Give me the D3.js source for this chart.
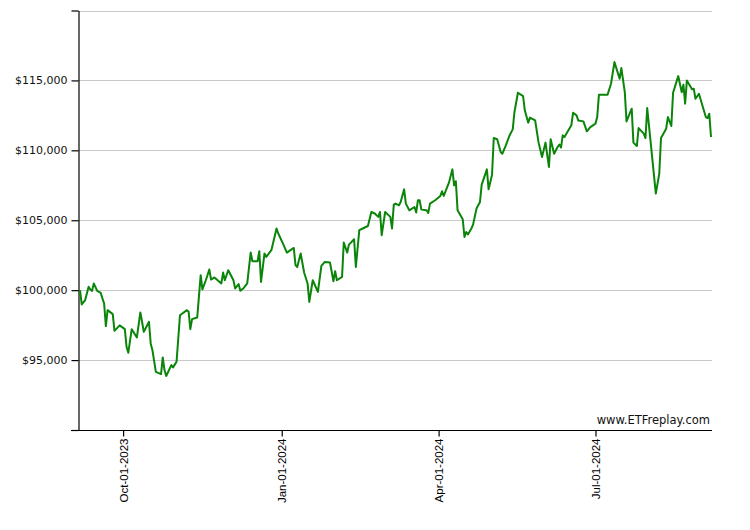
<!DOCTYPE html>
<html>
<head>
<meta charset="utf-8">
<script src="https://cdn.jsdelivr.net/npm/d3@7"></script>
<style>
  html, body { margin: 0; padding: 0; background: #fff; }
  svg { display: block; }
</style>
</head>
<body>
<svg id="chart" width="750" height="530"></svg>
<script>
const dates = [
"2023-09-06","2023-09-07","2023-09-09","2023-09-11","2023-09-12","2023-09-13","2023-09-14","2023-09-16","2023-09-18","2023-09-19",
"2023-09-20","2023-09-21","2023-09-22","2023-09-25","2023-09-26","2023-09-29","2023-10-02","2023-10-03","2023-10-04","2023-10-06",
"2023-10-09","2023-10-11","2023-10-12","2023-10-13","2023-10-16","2023-10-17","2023-10-18","2023-10-20","2023-10-23","2023-10-24",
"2023-10-25","2023-10-26","2023-10-29","2023-10-30","2023-11-01","2023-11-03","2023-11-07","2023-11-08","2023-11-09","2023-11-10",
"2023-11-13","2023-11-15","2023-11-16","2023-11-18","2023-11-20","2023-11-21","2023-11-23","2023-11-27","2023-11-28","2023-11-29",
"2023-12-01","2023-12-04","2023-12-05","2023-12-07","2023-12-08","2023-12-10","2023-12-12","2023-12-14","2023-12-15","2023-12-18",
"2023-12-19","2023-12-20","2023-12-22","2023-12-23","2023-12-26","2023-12-29","2023-12-30","2024-01-02","2024-01-04","2024-01-08",
"2024-01-09","2024-01-10","2024-01-12","2024-01-14","2024-01-16","2024-01-17","2024-01-19","2024-01-22","2024-01-24","2024-01-26",
"2024-01-29","2024-01-31","2024-02-01","2024-02-02","2024-02-05","2024-02-06","2024-02-08","2024-02-09","2024-02-12","2024-02-13",
"2024-02-15","2024-02-17","2024-02-20","2024-02-22","2024-02-24","2024-02-26","2024-02-27","2024-02-28","2024-03-01","2024-03-04",
"2024-03-05","2024-03-06","2024-03-07","2024-03-09","2024-03-10","2024-03-12","2024-03-13","2024-03-15","2024-03-18","2024-03-19",
"2024-03-20","2024-03-21","2024-03-22","2024-03-25","2024-03-26","2024-03-27","2024-03-30","2024-04-02","2024-04-03","2024-04-04",
"2024-04-07","2024-04-09","2024-04-10","2024-04-11","2024-04-12","2024-04-15","2024-04-16","2024-04-17","2024-04-18","2024-04-20",
"2024-04-21","2024-04-23","2024-04-25","2024-04-26","2024-04-29","2024-04-30","2024-05-02","2024-05-03","2024-05-05","2024-05-07",
"2024-05-08","2024-05-10","2024-05-12","2024-05-14","2024-05-15","2024-05-17","2024-05-20","2024-05-21","2024-05-23","2024-05-24",
"2024-05-27","2024-05-29","2024-05-31","2024-06-02","2024-06-04","2024-06-05","2024-06-07","2024-06-09","2024-06-10","2024-06-11",
"2024-06-12","2024-06-13","2024-06-17","2024-06-18","2024-06-20","2024-06-21","2024-06-24","2024-06-26","2024-06-28","2024-07-01",
"2024-07-02","2024-07-03","2024-07-08","2024-07-10","2024-07-12","2024-07-15","2024-07-16","2024-07-18","2024-07-19","2024-07-22",
"2024-07-23","2024-07-25","2024-07-26","2024-07-29","2024-07-30","2024-07-31","2024-08-05","2024-08-07","2024-08-08","2024-08-11",
"2024-08-12","2024-08-14","2024-08-15","2024-08-18","2024-08-20","2024-08-21","2024-08-22","2024-08-23","2024-08-26","2024-08-27",
"2024-08-28","2024-08-30","2024-09-03","2024-09-04","2024-09-05","2024-09-06"
];
const values = [
100000,98980,99290,100240,100050,99950,100480,99950,99810,99410,
99050,97430,98570,98290,97090,97480,97210,95950,95520,97210,
96620,98410,97740,97020,97740,96190,95710,94160,94000,95190,
94290,93860,94640,94480,94880,98210,98570,98450,97210,97930,
98050,101070,100050,100710,101480,100760,100910,100480,101260,100710,
101430,100710,100120,100430,99960,100160,100480,102690,102070,102070,
102790,100590,102620,102380,102860,104410,104050,103260,102690,103020,
101790,101660,102620,101260,100480,99160,100710,99880,101740,102020,
101980,100640,101360,100710,100950,103410,102690,103260,103640,101660,
104290,104410,104590,105590,105480,105240,105590,103930,105590,105240,
104410,106120,106190,106070,106310,107210,106190,105710,105950,105550,
106430,106430,105760,105710,105520,106190,106430,106740,107070,106740,
107690,108640,107500,107790,105710,105070,103810,104160,103980,104410,
104690,105840,106310,107550,108640,107210,108260,110880,110790,109880,
109760,110360,111020,111500,112740,114120,113880,112860,111980,112340,
112140,110550,109520,110550,108810,110790,109760,110240,110410,110200,
111070,110950,111790,112690,112500,112140,112070,111360,111660,111910,
112380,113980,113980,114760,116310,115120,115880,114160,112070,112980,
110550,110310,111590,111190,110880,113020,106910,108340,110880,111550,
112380,111740,114120,115310,114160,114690,113340,115000,114360,114410,
113690,114050,112380,112310,112620,110950
];
const yTickValues = [90000, 95000, 100000, 105000, 110000, 115000, 120000];
const xTickDates = ["2023-10-01", "2024-01-01", "2024-04-01", "2024-07-01"];
const watermark = "www.ETFreplay.com";

const parse = d3.timeParse("%Y-%m-%d");
const data = dates.map((d, i) => ({ date: parse(d), value: values[i] }));

const svg = d3.select("#chart");
const x = d3.scaleTime().domain(d3.extent(data, d => d.date)).range([80, 711]);
const y = d3.scaleLinear().domain([90000, 120000]).range([430, 10.5]);

// gridlines
svg.append("g")
  .selectAll("line")
  .data(yTickValues.slice(1))
  .join("line")
  .attr("x1", 78).attr("x2", 712)
  .attr("y1", d => Math.round(y(d)) + 0.5)
  .attr("y2", d => Math.round(y(d)) + 0.5)
  .attr("stroke", "#c8c8c8")
  .attr("stroke-width", 1);

// y axis
const fmt = v => (v === 90000 || v === 120000) ? "" : "$" + d3.format(",")(v);
const yAxis = svg.append("g")
  .attr("transform", "translate(78.5,0)")
  .call(d3.axisLeft(y).tickValues(yTickValues).tickFormat(fmt).tickSize(7).tickPadding(4).tickSizeOuter(0));
yAxis.select(".domain").attr("stroke", "#000").attr("stroke-width", 1.2);
yAxis.selectAll(".tick line").attr("stroke", "#000").attr("stroke-width", 1.2);
yAxis.selectAll("text")
  .attr("font-family", "'DejaVu Sans', Verdana, sans-serif")
  .attr("font-size", "11px")
  .attr("fill", "#111");

// x axis
const xAxis = svg.append("g")
  .attr("transform", "translate(0,430.5)")
  .call(d3.axisBottom(x)
    .tickValues(xTickDates.map(parse))
    .tickFormat(d3.timeFormat("%b-%d-%Y"))
    .tickSize(6).tickSizeOuter(0));
xAxis.select(".domain").attr("d", "M71,0H712").attr("stroke", "#000").attr("stroke-width", 1.2);
xAxis.selectAll(".tick line").attr("stroke", "#000").attr("stroke-width", 1.2);
xAxis.selectAll("text")
  .attr("font-family", "'Liberation Sans', Arial, sans-serif")
  .attr("font-size", "11.5px")
  .attr("fill", "#000")
  .attr("text-anchor", "end")
  .attr("dy", "0.35em")
  .attr("transform", "translate(0,8) rotate(-90)")
  .attr("x", 0).attr("y", 0);

// line
const line = d3.line().x(d => x(d.date)).y(d => y(d.value));
svg.append("path")
  .datum(data)
  .attr("d", line)
  .attr("fill", "none")
  .attr("stroke", "#0a850a")
  .attr("stroke-width", 2)
  .attr("stroke-linejoin", "round");

// watermark
svg.append("text")
  .attr("x", 710).attr("y", 424)
  .attr("text-anchor", "end")
  .attr("font-family", "'DejaVu Sans', Verdana, sans-serif")
  .attr("font-size", "11.5px")
  .attr("fill", "#111")
  .text(watermark);
</script>
</body>
</html>
